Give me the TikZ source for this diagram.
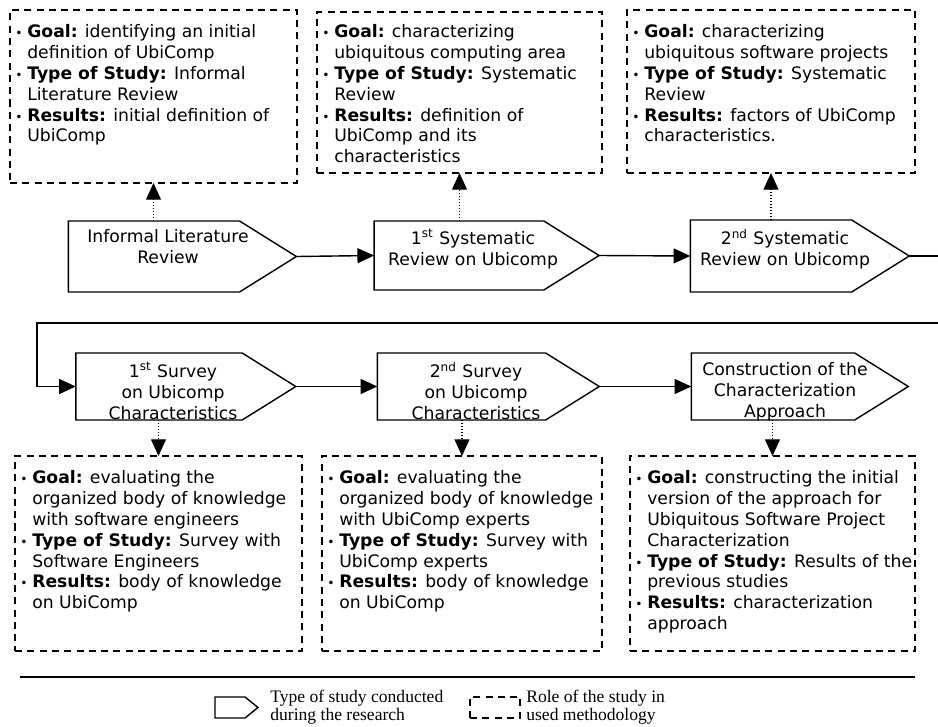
\documentclass[tikz,border=0pt]{standalone}
\usepackage{fontspec}
\setmainfont{DejaVu Sans}
\newfontfamily\legendfont{Liberation Serif}
\usetikzlibrary{shapes.symbols,arrows.meta}

\newcommand{\bul}{\makebox[6.8pt][l]{\fontsize{7pt}{7pt}\selectfont\textbullet}}
\newcommand{\ind}{\hspace*{6.8pt}}

\begin{document}
\begin{tikzpicture}[x=0.02cm,y=-0.02cm,
  every node/.style={font=\fontsize{9.8pt}{11.9pt}\selectfont},
  studyshape/.style={draw,line width=0.8pt,shape=signal,signal to=east,
    signal pointer angle=64,inner sep=0pt,outer sep=0pt},
  studytext/.style={anchor=north,align=center,inner sep=0pt},
  rolebox/.style={draw,line width=0.8pt,dash pattern=on 4pt off 3pt,
    inner sep=0pt,outer sep=0pt},
  roletext/.style={anchor=north west,align=left,inner sep=0pt},
  legendtext/.style={anchor=west,align=left,inner sep=0pt,
    font=\legendfont\fontsize{10pt}{8.8pt}\selectfont},
  flow/.style={line width=0.8pt,-{Triangle[length=9.5pt,width=8.5pt]}},
  dotflow/.style={line width=0.7pt,dash pattern=on 0.7pt off 1pt,
    -{Triangle[length=9.5pt,width=8.5pt]}}]
\useasboundingbox (0,0) rectangle (938,727);

% studies
\node[studyshape,minimum width=4.56cm,minimum height=1.42cm] (s1) at (154,256.5) {};
\node[studyshape,minimum width=4.50cm,minimum height=1.38cm] (s2) at (459,255.5) {};
\node[studyshape,minimum width=4.38cm,minimum height=1.44cm] (s3) at (771,256) {};
\node[studyshape,minimum width=4.40cm,minimum height=1.34cm] (s4) at (159,386.5) {};
\node[studyshape,minimum width=4.44cm,minimum height=1.34cm] (s5) at (461.5,386.5) {};
\node[studyshape,minimum width=4.34cm,minimum height=1.34cm] (s6) at (773,386.5) {};
\node[studytext] (s1t) at (168,229) {Informal Literature\\Review};
\node[studytext] (s2t) at (473,229) {1\textsuperscript{st} Systematic\\Review on Ubicomp};
\node[studytext] (s3t) at (785,229) {2\textsuperscript{nd} Systematic\\Review on Ubicomp};
\node[studytext] (s4t) at (173,362) {1\textsuperscript{st} Survey\\on Ubicomp\\Characteristics};
\node[studytext] (s5t) at (476,362) {2\textsuperscript{nd} Survey\\on Ubicomp\\Characteristics};
\node[studytext] (s6t) at (785,362) {Construction of the\\Characterization\\Approach};

% roles
\node[rolebox,minimum width=5.74cm,minimum height=3.46cm] (b1) at (153.5,96.5) {};
\node[rolebox,minimum width=5.70cm,minimum height=3.22cm] (b2) at (459.5,92.5) {};
\node[rolebox,minimum width=5.76cm,minimum height=3.26cm] (b3) at (771,91.5) {};
\node[rolebox,minimum width=5.74cm,minimum height=3.90cm] (b4) at (158.5,553.5) {};
\node[rolebox,minimum width=5.60cm,minimum height=3.90cm] (b5) at (462,553.5) {};
\node[rolebox,minimum width=5.70cm,minimum height=3.90cm] (b6) at (772.5,553.5) {};

\node[roletext] (b1t) at (15,24) {\bul\textbf{Goal:} identifying an initial\\
  \ind definition of UbiComp\\
  \bul\textbf{Type of Study:} Informal\\
  \ind Literature Review\\
  \bul\textbf{Results:} initial definition of\\
  \ind UbiComp};
\node[roletext] (b2t) at (322,24) {\bul\textbf{Goal:} characterizing\\
  \ind ubiquitous computing area\\
  \bul\textbf{Type of Study:} Systematic\\
  \ind Review\\
  \bul\textbf{Results:} definition of\\
  \ind UbiComp and its\\
  \ind characteristics};
\node[roletext] (b3t) at (632,24) {\bul\textbf{Goal:} characterizing\\
  \ind ubiquitous software projects\\
  \bul\textbf{Type of Study:} Systematic\\
  \ind Review\\
  \bul\textbf{Results:} factors of UbiComp\\
  \ind characteristics.};
\node[roletext] (b4t) at (20,470) {\bul\textbf{Goal:} evaluating the\\
  \ind organized body of knowledge\\
  \ind with software engineers\\
  \bul\textbf{Type of Study:} Survey with\\
  \ind Software Engineers\\
  \bul\textbf{Results:} body of knowledge\\
  \ind on UbiComp};
\node[roletext] (b5t) at (327,470) {\bul\textbf{Goal:} evaluating the\\
  \ind organized body of knowledge\\
  \ind with UbiComp experts\\
  \bul\textbf{Type of Study:} Survey with\\
  \ind UbiComp experts\\
  \bul\textbf{Results:} body of knowledge\\
  \ind on UbiComp};
\node[roletext] (b6t) at (635,470) {\bul\textbf{Goal:} constructing the initial\\
  \ind version of the approach for\\
  \ind Ubiquitous Software Project\\
  \ind Characterization\\
  \bul\textbf{Type of Study:} Results of the\\
  \ind previous studies\\
  \bul\textbf{Results:} characterization\\
  \ind approach};

% flow
\coordinate (edgeA) at (938,256);
\coordinate (edgeB) at (938,323);
\coordinate (turn) at (37,323);
\draw[flow] (s1.east) -- (s2.west);
\draw[flow] (s2.east) -- (s3.west);
\draw[line width=0.8pt] (s3.east) -- (edgeA);
\draw[flow] (edgeB) -- (turn) |- (s4.west);
\draw[flow] (s4.east) -- (s5.west);
\draw[flow] (s5.east) -- (s6.west);

\draw[dotflow] (s1.north -| b1.south) -- (b1.south);
\draw[dotflow] (s2.north -| b2.south) -- (b2.south);
\draw[dotflow] (s3.north -| b3.south) -- (b3.south);
\draw[dotflow] (s4.south -| b4.north) -- (b4.north);
\draw[dotflow] (s5.south -| b5.north) -- (b5.north);
\draw[dotflow] (s6.south -| b6.north) -- (b6.north);

% legend
\draw[line width=0.9pt] (20,677) -- (915,677);
\node[studyshape,signal pointer angle=78,minimum width=0.86cm,minimum height=0.42cm] (k1) at (230,707.5) {};
\node[legendtext] (k1t) at (270,707.5) {Type of study conducted\\during the research};
\node[rolebox,minimum width=1cm,minimum height=0.42cm] (k2) at (495,707.5) {};
\node[legendtext] (k2t) at (526,707.5) {Role of the study in\\used methodology};
\end{tikzpicture}
\end{document}
